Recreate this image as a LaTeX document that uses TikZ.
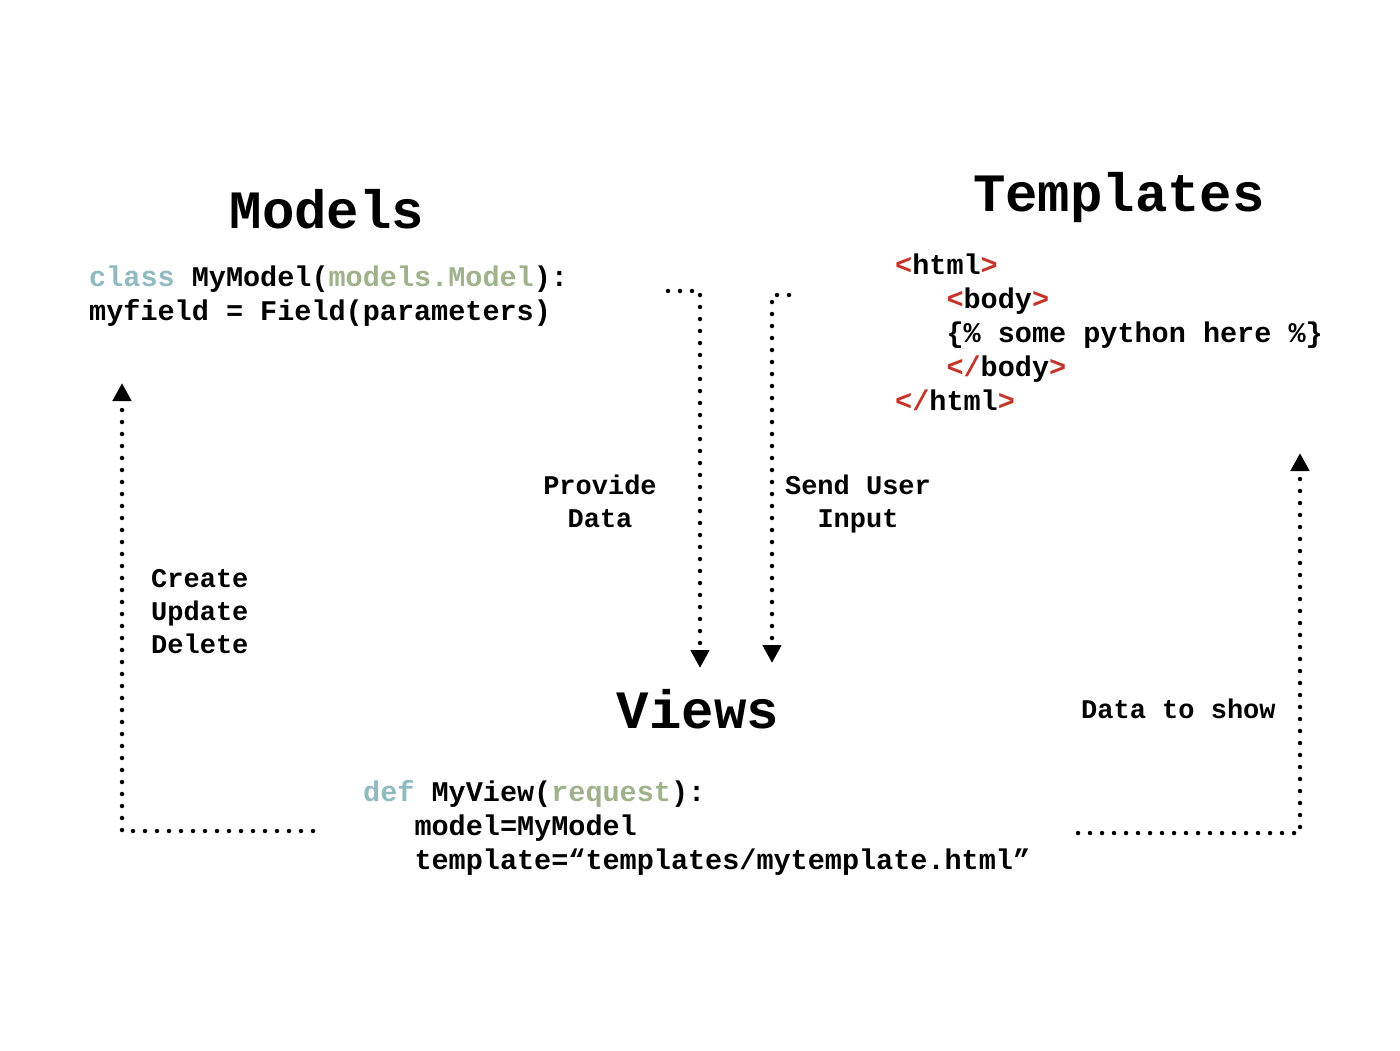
\documentclass[tikz,border=0pt]{standalone}
\usepackage{fontspec}
\setmonofont{Liberation Mono}
\usetikzlibrary{arrows.meta}

\definecolor{kwblue}{RGB}{143,187,192}
\definecolor{argreen}{RGB}{160,178,140}
\definecolor{tagred}{RGB}{196,52,40}

\newcommand{\kw}[1]{\textcolor{kwblue}{#1}}
\newcommand{\param}[1]{\textcolor{argreen}{#1}}
\newcommand{\otag}[1]{\textcolor{tagred}{<}#1\textcolor{tagred}{>}}
\newcommand{\ctag}[1]{\textcolor{tagred}{</}#1\textcolor{tagred}{>}}

\tikzset{
  title/.style={anchor=base,inner sep=0pt,font=\ttfamily\bfseries\fontsize{54}{60}\selectfont},
  code/.style={anchor=base west,inner sep=0pt,align=left,font=\ttfamily\bfseries\fontsize{28.5}{34}\selectfont},
  note/.style={anchor=base,inner sep=0pt,align=center,font=\ttfamily\bfseries\fontsize{27}{33}\selectfont},
  flow/.style={line width=4.5pt,line cap=round,dash pattern=on 0pt off 12pt,-{Triangle[length=18pt,width=18pt]}}
}

\begin{document}
\begin{tikzpicture}[x=1pt,y=-1pt]
    \fill[white] (0,0) rectangle (1400,1050);
    \useasboundingbox (0,0) rectangle (1400,1050);

    \node[title] (models) at (327,228) {Models};
    \node[title] (templates) at (1119,211) {Templates};
    \node[title] (views) at (698,728) {Views};

    % anchor base = baseline of the last line
    \node[code] (mcode) at (89,320) {\kw{class} MyModel(\param{models.Model}):\\myfield = Field(parameters)};
    \node[code] (tcode) at (895,410) {\otag{html}\\~~~\otag{body}\\~~~\{\% some python here \%\}\\~~~\ctag{body}\\\ctag{html}};
    \node[code] (vcode) at (363,869) {\kw{def} MyView(\param{request}):\\~~~model=MyModel\\~~~template=“templates/mytemplate.html”};

    \node[note] (provide) at (600,527) {Provide\\Data};
    \node[note] (send) at (858,527) {Send User\\Input};
    \node[note,align=left,anchor=base west] (cud) at (151,653) {Create\\Update\\Delete};
    \node[note,anchor=base west] (show) at (1081,718) {Data to show};

    \coordinate (cud start) at (313,831);
    \coordinate (cud end) at (122,383);
    \coordinate (show start) at (1078,833);
    \coordinate (show end) at (1300,453);
    \coordinate (provide start) at (668,291);
    \coordinate (provide end) at (700,668);
    \coordinate (send start) at (789,295);
    \coordinate (send end) at (772,663);

    \draw[flow] (cud start) -| (cud end);
    \draw[flow] (show start) -| (show end);
    \draw[flow] (provide start) -| (provide end);
    \draw[flow] (send start) -| (send end);
\end{tikzpicture}
\end{document}
